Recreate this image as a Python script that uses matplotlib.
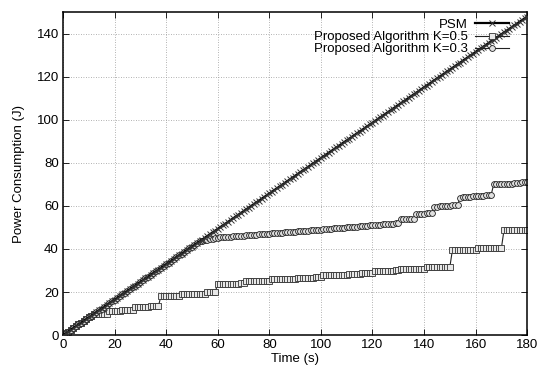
import matplotlib
matplotlib.use("Agg")
import matplotlib.pyplot as plt
import numpy as np

plt.rcParams['font.family'] = ['Liberation Sans', 'DejaVu Sans']

# one sample per second, as in the trace
t = np.arange(0, 181)

# energy added each second, run-length coded as (J per second, number of seconds),
# read off the slopes and step heights of the picture
psm_runs = [(0.822, 180)]

k05_runs = [(0.822, 12), (0.03, 5), (1.3, 1), (0.02, 9), (1.6, 1), (0.03, 9),
            (4.8, 1), (0.02, 7), (1.0, 1), (0.0, 9), (0.7, 1), (0.0, 3),
            (3.6, 1), (0.04, 10),
            (1.0, 1), (0.02, 9), (0.7, 1), (0.01, 9), (0.7, 1), (0.01, 9),
            (1.0, 1), (0.01, 9), (0.7, 1), (0.01, 9), (1.2, 1), (0.02, 9),
            (0.8, 1), (0.01, 9), (0.7, 1), (0.0, 9), (8.0, 1), (0.0, 9),
            (0.9, 1), (0.0, 9), (8.4, 1), (0.0, 9)]

k03_runs = [(0.822, 53), (0.25, 7), (0.09, 20), (0.095, 20), (0.1, 20),
            (0.1, 10), (1.8, 1), (0.05, 5), (2.2, 1), (0.05, 6), (3.0, 1),
            (0.1, 9), (3.4, 1), (0.1, 12), (5.0, 1), (0.02, 7), (0.6, 1),
            (0.02, 5)]


def build(runs):
    steps = np.concatenate([np.full(n, v) for v, n in runs])
    return np.concatenate([[0.0], np.cumsum(steps)])


psm = build(psm_runs)
k05 = build(k05_runs)
k03 = build(k03_runs)

fig = plt.figure(figsize=(5.38, 3.67), dpi=100)
ax = fig.add_axes([0.117, 0.087, 0.863, 0.88])

ax.plot(t, psm, color='black', linewidth=1.6, marker='x', markersize=4,
        markeredgewidth=0.7, markeredgecolor='#333333', label='PSM', zorder=3)
ax.plot(t, k05, color='#222222', linewidth=0.8, marker='s', markersize=4.2,
        markerfacecolor='#e8e8e8', markeredgewidth=0.6, markeredgecolor='#333333',
        label='Proposed Algorithm K=0.5', zorder=2)
ax.plot(t, k03, color='#222222', linewidth=0.8, marker='o', markersize=4.2,
        markerfacecolor='#e0e0e0', markeredgewidth=0.6, markeredgecolor='#222222',
        label='Proposed Algorithm K=0.3', zorder=2)

ax.set_xlim(0, 180)
ax.set_ylim(0, 150)
ax.set_xticks(np.arange(0, 181, 20))
ax.set_yticks(np.arange(0, 141, 20))
ax.tick_params(direction='in', top=True, right=True, labelsize=9.5, length=4,
               width=0.6, pad=3)
ax.grid(True, linestyle=(0, (1, 2)), color='#999999', linewidth=0.6)
for s in ax.spines.values():
    s.set_linewidth(1.1)

ax.set_xlabel('Time (s)', fontsize=9.5, labelpad=1)
ax.set_ylabel('Power Consumption (J)', fontsize=9.5, labelpad=8)

ax.legend(loc='upper right', frameon=False, markerfirst=False, fontsize=9.5,
          handlelength=2.6, borderaxespad=0.1, labelspacing=0.0,
          handletextpad=0.5, bbox_to_anchor=(0.975, 1.0))

fig.savefig('out.png', dpi=100)
